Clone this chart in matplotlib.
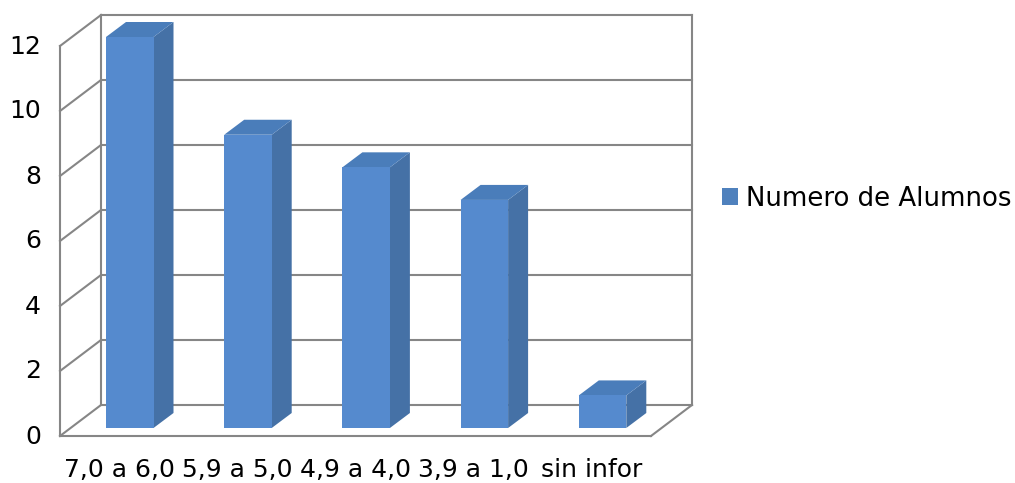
import matplotlib.pyplot as plt
from matplotlib.patches import Patch
from matplotlib.transforms import ScaledTranslation

plt.rcParams['font.family'] = 'DejaVu Sans'

# Datos
categorias = ['7,0 a 6,0', '5,9 a 5,0', '4,9 a 4,0', '3,9 a 1,0', 'sin infor']
alumnos = [12, 9, 8, 7, 1]
ticks_y = [0, 2, 4, 6, 8, 10, 12]
serie = 'Numero de Alumnos'

ANCHO, ALTO = 1015, 483
GRIS = '#868686'
FRENTE = '#558ace'
TECHO = '#4a7dba'
LADO = '#4571a6'
LW = 1.5

fig = plt.figure(figsize=(ANCHO / 100, ALTO / 100), dpi=100)
# El eje es el plano frontal del piso, en pixeles de la imagen
ax = fig.add_axes([60 / ANCHO, 1 - 436 / ALTO, 591 / ANCHO, 390 / ALTO])
ax.set_xlim(0, len(categorias))
ax.set_ylim(0, 12)

# Profundidad del grafico en unidades de datos
px_x = len(categorias) / 591
px_y = 12 / 390
prof_x = 41 * px_x
prof_y = 31 * px_y

# Paredes y piso
for v in ticks_y:
    ax.plot([0, prof_x], [v, v + prof_y], color=GRIS, lw=LW, clip_on=False, zorder=1)
    ax.plot([prof_x, len(categorias) + prof_x], [v + prof_y, v + prof_y],
            color=GRIS, lw=LW, clip_on=False, zorder=1)
ax.plot([prof_x, prof_x], [prof_y, 12 + prof_y], color=GRIS, lw=LW, clip_on=False, zorder=1)
ax.plot([len(categorias) + prof_x] * 2, [prof_y, 12 + prof_y], color=GRIS, lw=LW,
        clip_on=False, zorder=1)
ax.plot([len(categorias), len(categorias) + prof_x], [0, prof_y], color=GRIS, lw=LW,
        clip_on=False, zorder=1)

# Barras 3D
ancho_barra = 47.5 * px_x
base = 8 * px_y
dx = 20 * px_x
dy = 15 * px_y
for i, v in enumerate(alumnos):
    x0 = i + 46 * px_x
    x1 = x0 + ancho_barra
    tope = base + v * (391 / 390)
    ax.fill([x1, x1 + dx, x1 + dx, x1], [base, base + dy, tope + dy, tope],
            color=LADO, lw=0, clip_on=False, zorder=3)
    ax.fill([x0, x0 + dx, x1 + dx, x1], [tope, tope + dy, tope + dy, tope],
            color=TECHO, lw=0, clip_on=False, zorder=3)
    ax.fill([x0, x1, x1, x0], [base, base, tope, tope],
            color=FRENTE, lw=0, clip_on=False, zorder=4)

for lado in ['top', 'right']:
    ax.spines[lado].set_visible(False)
for lado in ['left', 'bottom']:
    ax.spines[lado].set_color(GRIS)
    ax.spines[lado].set_linewidth(LW)

ax.set_xticks([i + 0.5 for i in range(len(categorias))])
ax.set_xticklabels(categorias)
ax.set_yticks(ticks_y)
ax.tick_params(axis='x', length=0, labelsize=18, pad=16)
ax.tick_params(axis='y', length=0, labelsize=18, pad=13.5)

# Las etiquetas del eje y van un poco mas arriba de cada linea
subir = ScaledTranslation(0, 2 / 100, fig.dpi_scale_trans)
for etiqueta in ax.get_yticklabels():
    etiqueta.set_transform(etiqueta.get_transform() + subir)

leyenda = [Patch(facecolor='#4f81bd', edgecolor='none', label=serie)]
fig.legend(handles=leyenda, loc='center left', bbox_to_anchor=(722 / ANCHO, 1 - 198.5 / ALTO),
           frameon=False, fontsize=18.7, handlelength=0.62, handleheight=0.62,
           handletextpad=0.3, borderpad=0, borderaxespad=0)

fig.savefig('out.png', dpi=100)
